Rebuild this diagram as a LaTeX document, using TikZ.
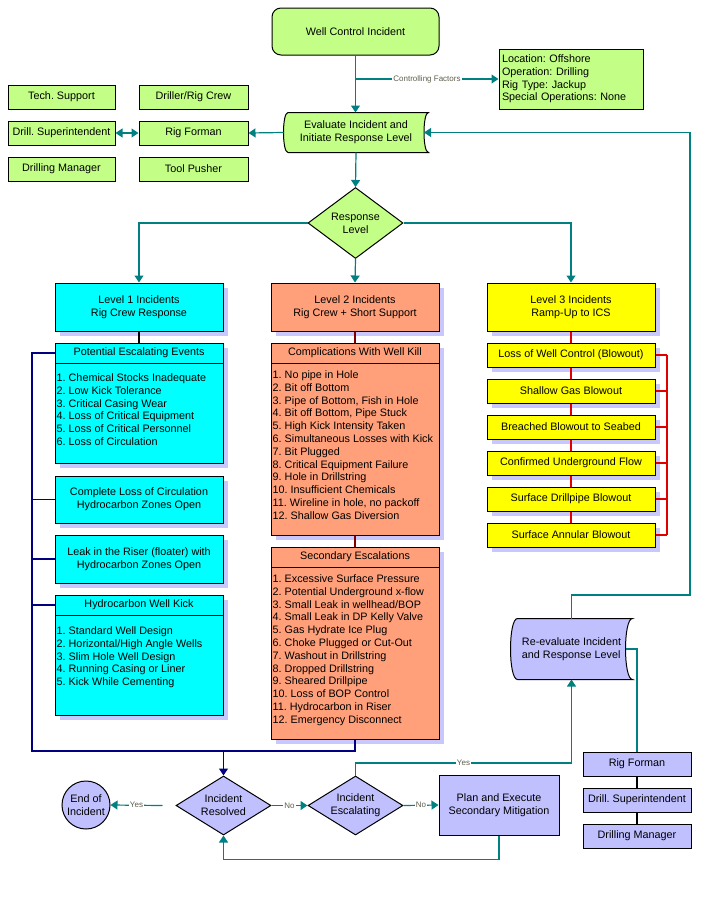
\documentclass[tikz,border=0pt]{standalone}
\usepackage{fontspec}
\setmainfont{Liberation Sans}
\usepackage{tikz}
\usetikzlibrary{arrows.meta,shapes.geometric,positioning,shadows,backgrounds}
\frenchspacing
\definecolor{wcgreen}{HTML}{C3FF86}
\definecolor{lvcyan}{HTML}{00FFFF}
\definecolor{lvsalmon}{HTML}{FFA07A}
\definecolor{lvyellow}{HTML}{FFFF00}
\definecolor{lavblue}{HTML}{C0C0FF}
\definecolor{shadowblue}{HTML}{C8C8FF}
\definecolor{lineteal}{HTML}{008080}
\definecolor{linenavy}{HTML}{000080}
\definecolor{linedred}{HTML}{800000}
\definecolor{linered}{HTML}{E00000}
\definecolor{lblgray}{HTML}{5F5F4F}
\newcommand\boxfont{\fontsize{10.8}{12.8}\selectfont}
\newcommand\lblfont{\fontsize{8}{9}\selectfont}
% outline of the tape shaped boxes: node, bulge, fill
\newcommand\tapepath[3]{%
  \filldraw[line width=1pt, fill=#3]
    ([xshift=#2pt]#1.north west)
    .. controls ([xshift=-#2pt/3]#1.north west) and ([xshift=-#2pt/3]#1.south west) .. ([xshift=#2pt]#1.south west)
    -- (#1.south east)
    .. controls ([xshift=-4*#2pt/3]#1.south east) and ([xshift=-4*#2pt/3]#1.north east) .. (#1.north east)
    -- cycle;}
\tikzset{
  basic/.style    = {draw, line width=1pt, inner sep=0pt, align=center, font=\boxfont},
  gbox/.style     = {basic, fill=wcgreen},
  pbox/.style     = {basic, fill=lavblue},
  tapetext/.style = {basic, draw=none},
  lvl/.style      = {basic, minimum width=168pt,
                     drop shadow={shadow xshift=5pt, shadow yshift=-5pt, opacity=1, fill=shadowblue}},
  lvone/.style    = {lvl, fill=lvcyan},
  lvtwo/.style    = {lvl, fill=lvsalmon},
  lvthree/.style  = {lvl, fill=lvyellow, minimum height=24pt},
  hdr/.style      = {basic, minimum width=168pt, minimum height=20pt},
  itemlist/.style = {align=left, inner sep=0pt, font=\boxfont, anchor=north west},
  decision/.style = {basic, diamond, aspect=1.6, minimum width=95pt},
  tealline/.style = {draw=lineteal, line width=1.2pt},
  tealarrow/.style = {tealline, -{Triangle[length=7pt,width=9pt]}},
  tealboth/.style = {tealline, {Triangle[length=7pt,width=9pt]}-{Triangle[length=7pt,width=9pt]}},
  navyline/.style = {draw=linenavy, line width=1.2pt},
  navyarrow/.style = {navyline, -{Triangle[length=7pt,width=9pt]}},
  dredline/.style = {draw=linedred, line width=1.2pt},
  redline/.style  = {draw=linered, line width=1.2pt},
  blackline/.style = {draw=black, line width=1.2pt},
  lbl/.style      = {font=\lblfont, text=lblgray, fill=white, inner sep=1pt}
}

\begin{document}
\begin{tikzpicture}[x=1pt, y=-1pt]
\useasboundingbox (0,0) rectangle (715,910);

% incident and first evaluation
\node[gbox, rounded corners=9pt, minimum width=167pt, minimum height=47pt] (wci) at (355.5,31.5) {Well Control Incident};
\node[gbox, minimum width=144pt, minimum height=60pt, text width=138pt, align=left] (cf) at (571,79)
  {Location: Offshore\\Operation: Drilling\\Rig Type: Jackup\\Special Operations: None};
\node[tapetext, minimum width=144pt, minimum height=39pt] (eval) at (356,132.5) {Evaluate Incident and\\Initiate Response Level};

% rig organisation
\begin{scope}[every node/.style={gbox, minimum height=24pt}]
\node[minimum width=107pt] (tsup) at (61.5,97) {Tech. Support};
\node[minimum width=107pt] (dsup) at (61.5,133) {Drill. Superintendent};
\node[minimum width=107pt] (dman) at (61.5,169) {Drilling Manager};
\node[minimum width=109pt] (drc) at (193.5,97) {Driller/Rig Crew};
\node[minimum width=109pt] (rigf) at (193.5,133) {Rig Forman};
\node[minimum width=109pt] (tpush) at (193.5,169) {Tool Pusher};
\end{scope}

\node[decision, fill=wcgreen, minimum height=71pt] (resp) at (355.5,223) {Response\\Level};

% the three response levels
\node[lvone, minimum height=48pt] (lv1) at (139,307) {Level 1 Incidents\\Rig Crew Response};
\node[lvtwo, minimum height=48pt] (lv2) at (355,307) {Level 2 Incidents\\Rig Crew + Short Support};
\node[lvthree, minimum height=48pt] (lv3) at (571,307) {Level 3 Incidents\\Ramp-Up to ICS};

% level 1 events
\node[lvone, minimum height=120pt] (pee) at (139,403) {};
\node[hdr] (peeh) at (139,353) {Potential Escalating Events};
\node[itemlist] (peel) at ([xshift=2pt,yshift=-10pt]peeh.south west)
  {1. Chemical Stocks Inadequate\\2. Low Kick Tolerance\\3. Critical Casing Wear\\4. Loss of Critical Equipment\\5. Loss of Critical Personnel\\6. Loss of Circulation};
\node[lvone, minimum height=47pt] (clc) at (139,499.5) {Complete Loss of Circulation\\Hydrocarbon Zones Open};
\node[lvone, minimum height=48pt] (lrr) at (139,559) {Leak in the Riser (floater) with\\Hydrocarbon Zones Open};
\node[lvone, minimum height=120pt] (hwk) at (139,655) {};
\node[hdr] (hwkh) at (139,605) {Hydrocarbon Well Kick};
\node[itemlist] (hwkl) at ([xshift=2pt,yshift=-11pt]hwkh.south west)
  {1. Standard Well Design\\2. Horizontal/High Angle Wells\\3. Slim Hole Well Design\\4. Running Casing or Liner\\5. Kick While Cementing};

% level 2 events
\node[lvtwo, minimum height=192pt] (cwk) at (355,439) {};
\node[hdr] (cwkh) at (355,353) {Complications With Well Kill};
\node[itemlist] (cwkl) at ([xshift=2pt,yshift=-7pt]cwkh.south west)
  {1. No pipe in Hole\\2. Bit off Bottom\\3. Pipe of Bottom, Fish in Hole\\4. Bit off Bottom, Pipe Stuck\\5. High Kick Intensity Taken\\6. Simultaneous Losses with Kick\\7. Bit Plugged\\8. Critical Equipment Failure\\9. Hole in Drillstring\\10. Insufficient Chemicals\\11. Wireline in hole, no packoff\\12. Shallow Gas Diversion};
\node[lvtwo, minimum height=192pt] (sec) at (355,643) {};
\node[hdr] (sech) at (355,557) {Secondary Escalations};
\node[itemlist] (secl) at ([xshift=2pt,yshift=-7pt]sech.south west)
  {1. Excessive Surface Pressure\\2. Potential Underground x-flow\\3. Small Leak in wellhead/BOP\\4. Small Leak in DP Kelly Valve\\5. Gas Hydrate Ice Plug\\6. Choke Plugged or Cut-Out\\7. Washout in Drillstring\\8. Dropped Drillstring\\9. Sheared Drillpipe\\10. Loss of BOP Control\\11. Hydrocarbon in Riser\\12. Emergency Disconnect};

% level 3 events
\node[lvthree] (lw1) at (571,355) {Loss of Well Control (Blowout)};
\node[lvthree, below=11pt of lw1] (lw2) {Shallow Gas Blowout};
\node[lvthree, below=11pt of lw2] (lw3) {Breached Blowout to Seabed};
\node[lvthree, below=11pt of lw3] (lw4) {Confirmed Underground Flow};
\node[lvthree, below=11pt of lw4] (lw5) {Surface Drillpipe Blowout};
\node[lvthree, below=11pt of lw5] (lw6) {Surface Annular Blowout};

% re-evaluation and closing loop
\node[tapetext, minimum width=121pt, minimum height=60pt, align=left] (reval) at (571.5,649) {Re-evaluate Incident\\and Response Level};
\node[pbox, minimum width=108pt, minimum height=24pt] (rf2) at (637,764) {Rig Forman};
\node[pbox, minimum width=108pt, minimum height=24pt, below=11pt of rf2] (ds2) {Drill. Superintendent};
\node[pbox, minimum width=108pt, minimum height=24pt, below=11pt of ds2] (dm2) {Drilling Manager};
\node[pbox, circle, minimum size=48pt] (eoi) at (86,805) {End of\\Incident};
\node[decision, fill=lavblue, minimum height=59pt] (res) at (223.5,805.5) {Incident\\Resolved};
\node[decision, fill=lavblue, minimum height=59pt] (esc) at (355.5,805.5) {Incident\\Escalating};
\node[pbox, minimum width=120pt, minimum height=60pt] (plan) at (499,805) {Plan and Execute\\Secondary Mitigation};

\begin{scope}[on background layer]
\tapepath{eval}{4.5}{wcgreen}
\tapepath{reval}{7}{lavblue}
\end{scope}

% connectors
\coordinate (fb) at (690,595);
\coordinate (nv) at (32,751);
\coordinate (rb) at (667,355);
\coordinate (yy) at (571.5,763);

\draw[tealarrow] (wci.south) -- (wci.south |- eval.north);
\draw[tealarrow] (wci.south |- cf.west) -- node[lbl]{Controlling Factors} (cf.west);
\draw[tealarrow] (eval.west) -- (rigf.east);
\draw[tealboth] (dsup.east) -- (rigf.west);
\draw[tealarrow] (eval.south) -- (resp.north);
\draw[tealarrow] (resp.west) -| (lv1.north);
\draw[tealarrow] (resp.south) -- (lv2.north);
\draw[tealarrow] (resp.east) -| (lv3.north);

\draw[blackline] (lv1.south) -- (pee.north);
\draw[navyline] (peeh.west) -| (nv) -| (sec.south);
\foreach \n in {clc,lrr,hwkh}
  \draw[navyline] (\n.west) -- (\n.west -| nv);
\draw[navyarrow] (res.north |- nv) -- (res.north);

\draw[dredline] (lv2.south) -- (cwk.north);
\draw[dredline] (cwk.south) -- (sec.north);

\draw[redline] (lv3.south) -- (lw1.north);
\foreach \a/\b in {lw1/lw2,lw2/lw3,lw3/lw4,lw4/lw5,lw5/lw6}
  \draw[redline] (\a.south) -- (\b.north);
\foreach \n in {lw1,lw2,lw3,lw4,lw5,lw6}
  \draw[redline] (\n.east) -- (\n.east -| rb);
\draw[redline] (lw1.east -| rb) -- (lw6.east -| rb);

\draw[tealarrow] (reval.north) |- (fb) |- ([xshift=-4.5pt]eval.east);
\draw[tealline] ([xshift=-7pt]reval.east) -| (rf2.north);
\draw[blackline] (rf2.south) -- (ds2.north);
\draw[blackline] (ds2.south) -- (dm2.north);

\draw[tealarrow] ([xshift=-13pt]res.west) -- node[lbl]{Yes} (eoi.east);
\draw[tealarrow] (res.east) -- node[lbl]{No} (esc.west);
\draw[tealarrow] (esc.east) -- node[lbl]{No} (plan.west);
\draw[tealarrow] (esc.north) |- node[lbl, pos=.75]{Yes} (yy) -- (reval.south);
\draw[tealarrow] (plan.south) -- ++(0,24) -| (res.south);
\end{tikzpicture}
\end{document}
